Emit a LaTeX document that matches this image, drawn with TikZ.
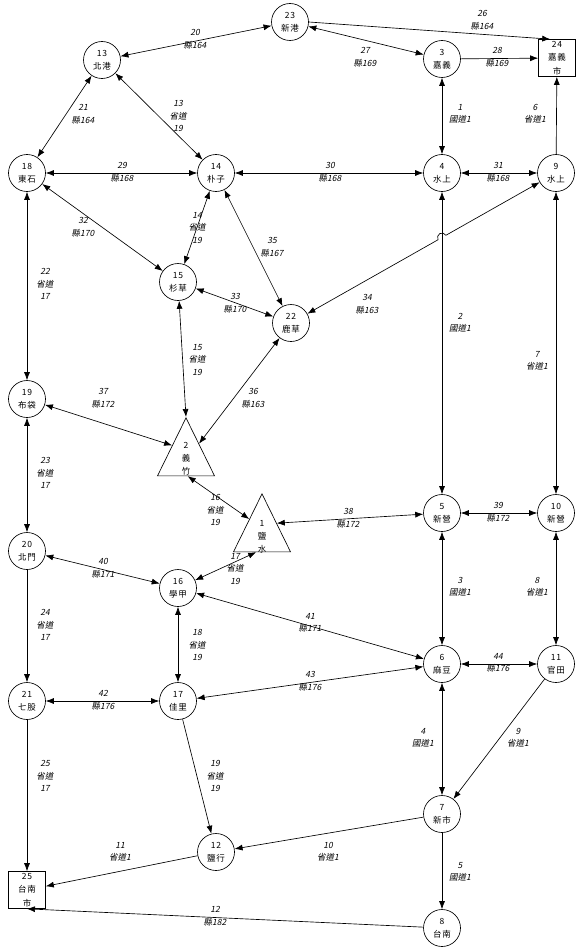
\documentclass[tikz,border=0pt]{standalone}
\usepackage{fontspec}
\usetikzlibrary{calc,arrows.meta,shapes.geometric}
\newfontfamily\cjk[LetterSpace=8]{Noto Sans CJK TC}
\newfontfamily\cjkit[FakeSlant=0.2]{Noto Sans CJK TC}

\tikzset{
	town/.style={draw, circle, minimum size=37pt, inner sep=0pt, align=center,
		font=\cjk\fontsize{8.5}{13}\selectfont},
	city/.style={draw, rectangle, minimum size=37pt, inner sep=0pt, align=center,
		font=\cjk\fontsize{8.5}{13.5}\selectfont},
	tri/.style={draw, isosceles triangle, isosceles triangle stretches,
		shape border rotate=90, minimum width=57pt, minimum height=58pt,
		inner sep=0pt, anchor=apex},
	tritext/.style={inner sep=0pt, align=center, font=\cjk\fontsize{8.5}{13}\selectfont},
	road/.style={inner sep=0pt, align=center, font=\cjkit\fontsize{8.5}{12.5}\selectfont},
	one/.style={-{Latex[length=8pt,width=6pt]}},
	both/.style={{Latex[length=8pt,width=6pt]}-{Latex[length=8pt,width=6pt]}}
}

\begin{document}
\begin{tikzpicture}[x=1pt, y=-1pt, line width=0.65pt]
		\useasboundingbox (0,0) rectangle (582,947);
		% towns
		\node[town] (n23) at (290,22)  {23\\新港};
		\node[town] (n13) at (102,60)  {13\\北港};
		\node[town] (n3)  at (442,59)  {3\\嘉義};
		\node[city] (n24) at (557,58)  {24\\嘉義\\市};
		\node[town] (n18) at (27,173)  {18\\東石};
		\node[town] (n14) at (216,173) {14\\朴子};
		\node[town] (n4)  at (442,173) {4\\水上};
		\node[town] (n9)  at (556,173) {9\\水上};
		\node[town] (n15) at (178,282) {15\\杉草};
		\node[town] (n22) at (291,323) {22\\鹿草};
		\node[town] (n19) at (27,399)  {19\\布袋};
		\node[town] (n20) at (27,551)  {20\\北門};
		\node[town] (n16) at (178,588) {16\\學甲};
		\node[town] (n5)  at (442,513) {5\\新營};
		\node[town] (n10) at (556,513) {10\\新營};
		\node[town] (n21) at (27,701)  {21\\七股};
		\node[town] (n17) at (178,701) {17\\佳里};
		\node[town] (n6)  at (442,664) {6\\麻豆};
		\node[town] (n11) at (556,664) {11\\官田};
		\node[town] (n7)  at (442,814) {7\\新市};
		\node[town] (n12) at (216,852) {12\\鹽行};
		\node[town] (n8)  at (442,928) {8\\台南};
		\node[city] (n25) at (27,890)  {25\\台南\\市};
		% triangles
		\node[tri] (n2) at (186,417) {};
		\node[tri] (n1) at (262,493) {};
		\node[tritext] (t2) at (186,459) {2\\義\\竹};
		\node[tritext] (t1) at (262,537) {1\\鹽\\水};
		% hop over the freeway
		\coordinate (hop)  at (442,237.5);
		\coordinate (hopR) at (445.9,235.3);
		% freeway
		\draw[both] (n3) -- (n4);
		\draw[both] (n4) -- (n5);
		\draw[both] (n5) -- (n6);
		\draw[both] (n6) -- (n7);
		\draw[one] (n7) -- (n8);
		% provincial roads
		\draw[one] (n9) -- (n24);
		\draw[both] (n9) -- (n10);
		\draw[both] (n10) -- (n11);
		\draw[one] (n11) -- (n7);
		\draw[one] (n7) -- (n12);
		\draw[one] (n12) -- (n25);
		\draw[both] (n13) -- (n14);
		\draw[both] (n14) -- (n15);
		\draw[both] (n15) -- (n2.apex);
		\draw[both] ($(n2.left corner)!0.53!(n2.right corner)$) -- ($(n1.apex)!0.44!(n1.left corner)$);
		\draw[both] ($(n1.left corner)!0.40!(n1.right corner)$) -- (n16);
		\draw[both] (n16) -- (n17);
		\draw[one] (n17) -- (n12);
		\draw[both] (n18) -- (n19);
		\draw[both] (n19) -- (n20);
		\draw[one] (n20) -- (n21);
		\draw[one] (n21) -- (n25);
		% county roads
		\draw[one] (n8) -- (n25.south);
		\draw[both] (n23) -- (n13);
		\draw[both] (n13) -- (n18);
		\draw[one] (n23.east) -- ($(n24.north west)!0.32!(n24.north east)$);
		\draw[both] (n23) -- (n3);
		\draw[one] (n3) -- (n24);
		\draw[both] (n18) -- (n14);
		\draw[both] (n14) -- (n4);
		\draw[both] (n4) -- (n9);
		\draw[both] (n18) -- (n15);
		\draw[both] (n15) -- (n22);
		\draw[both] (n9) -- (hopR) arc[start angle=29.5, end angle=209.5, radius=4.5pt] -- (n22);
		\draw[both] (n14) -- (n22);
		\draw[both] (n22) -- ($(n2.apex)!0.45!(n2.right corner)$);
		\draw[both] (n19) -- ($(n2.apex)!0.48!(n2.left corner)$);
		\draw[both] ($(n1.apex)!0.51!(n1.right corner)$) -- (n5);
		\draw[both] (n5) -- (n10);
		\draw[both] (n20) -- (n16);
		\draw[both] (n16) -- (n6);
		\draw[both] (n21) -- (n17);
		\draw[both] (n17) -- (n6);
		\draw[both] (n6) -- (n11);
		% road labels
		\node[road] (l1)  at (460,114) {1\\國道1};
		\node[road] (l2)  at (460,323) {2\\國道1};
		\node[road] (l3)  at (460,587) {3\\國道1};
		\node[road] (l4)  at (423,738) {4\\國道1};
		\node[road] (l5)  at (460,872) {5\\國道1};
		\node[road] (l6)  at (535,114) {6\\省道1};
		\node[road] (l7)  at (537,361) {7\\省道1};
		\node[road] (l8)  at (537,587) {8\\省道1};
		\node[road] (l9)  at (518,738) {9\\省道1};
		\node[road] (l10) at (328,852) {10\\省道1};
		\node[road] (l11) at (120,852) {11\\省道1};
		\node[road] (l12) at (215,916) {12\\縣182};
		\node[road] (l13) at (178,116) {13\\省道\\19};
		\node[road] (l14) at (197,228) {14\\省道\\19};
		\node[road] (l15) at (197,360) {15\\省道\\19};
		\node[road] (l16) at (215,510) {16\\省道\\19};
		\node[road] (l17) at (235,569) {17\\省道\\19};
		\node[road] (l18) at (197,645) {18\\省道\\19};
		\node[road] (l19) at (215,776) {19\\省道\\19};
		\node[road] (l20) at (195,39)  {20\\縣164};
		\node[road] (l21) at (83,114)  {21\\縣164};
		\node[road] (l22) at (45,284)  {22\\省道\\17};
		\node[road] (l23) at (45,473)  {23\\省道\\17};
		\node[road] (l24) at (45,625)  {24\\省道\\17};
		\node[road] (l25) at (45,776)  {25\\省道\\17};
		\node[road] (l26) at (482,20)  {26\\縣164};
		\node[road] (l27) at (365,57)  {27\\縣169};
		\node[road] (l28) at (497,57)  {28\\縣169};
		\node[road] (l29) at (122,172) {29\\縣168};
		\node[road] (l30) at (330,172) {30\\縣168};
		\node[road] (l31) at (498,172) {31\\縣168};
		\node[road] (l32) at (83,227)  {32\\縣170};
		\node[road] (l33) at (235,303) {33\\縣170};
		\node[road] (l34) at (367,304) {34\\縣163};
		\node[road] (l35) at (272,247) {35\\縣167};
		\node[road] (l36) at (253,398) {36\\縣163};
		\node[road] (l37) at (103,398) {37\\縣172};
		\node[road] (l38) at (348,518) {38\\縣172};
		\node[road] (l39) at (498,512) {39\\縣172};
		\node[road] (l40) at (103,568) {40\\縣171};
		\node[road] (l41) at (310,623) {41\\縣171};
		\node[road] (l42) at (103,700) {42\\縣176};
		\node[road] (l43) at (310,681) {43\\縣176};
		\node[road] (l44) at (498,663) {44\\縣176};
	\end{tikzpicture}
\end{document}
